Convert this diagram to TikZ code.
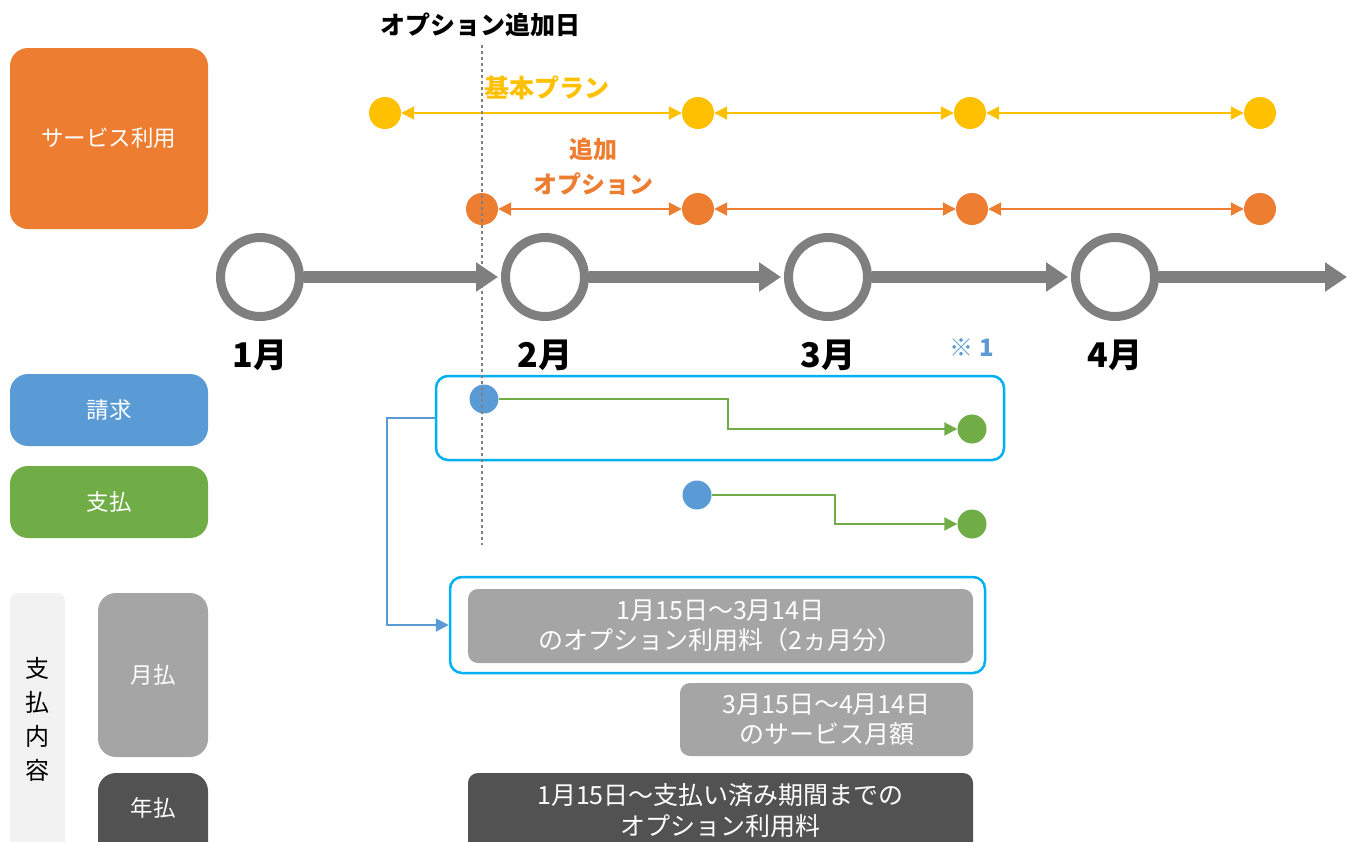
\documentclass[tikz,border=0pt]{standalone}
\usepackage{fontspec}
\setmainfont{Noto Sans CJK JP}
\usetikzlibrary{arrows.meta,calc}

\definecolor{svcorange}{HTML}{ED7D31}
\definecolor{planyellow}{HTML}{FFC000}
\definecolor{billblue}{HTML}{5B9BD5}
\definecolor{paygreen}{HTML}{70AD47}
\definecolor{boxgray}{HTML}{A5A5A5}
\definecolor{boxdark}{HTML}{525252}
\definecolor{panelgray}{HTML}{F2F2F2}
\definecolor{framecyan}{HTML}{00B0F0}
\definecolor{tlgray}{HTML}{7F7F7F}

\tikzset{
  labelbox/.style={rounded corners=18pt, minimum width=198pt, inner sep=0pt,
    text=white, font=\fontsize{22.5}{26}\selectfont},
  month/.style={circle, draw=tlgray, line width=9pt, minimum size=79pt,
    inner sep=0pt, fill=white},
  monthlabel/.style={font=\bfseries\fontsize{34}{38}\selectfont},
  tline/.style={draw=tlgray, line width=12pt, shorten >=3pt,
    -{Triangle[length=22pt,width=28pt]}},
  dot/.style={circle, minimum size=32pt, inner sep=0pt},
  smalldot/.style={circle, minimum size=29pt, inner sep=0pt},
  spanarrow/.style={line width=2pt,
    {Triangle[length=13pt,width=13pt]}-{Triangle[length=13pt,width=13pt]}},
  elbow/.style={draw=paygreen, line width=2pt, -{Triangle[length=13pt,width=13pt]}},
  frame/.style={draw=framecyan, line width=2.5pt, rounded corners=12pt},
  feebox/.style={fill=boxgray, rounded corners=10pt, inner sep=0pt, text=white,
    align=center, font=\fontsize{25}{30}\selectfont},
}

\begin{document}
\begin{tikzpicture}[x=1pt,y=-1pt]
\useasboundingbox (0,0) rectangle (1347,841);
\clip (0,0) rectangle (1347,841);

% left labels
\node[labelbox, fill=svcorange, minimum height=181pt] (use) at (109,138.5) {サービス利用};
\node[labelbox, fill=billblue, minimum height=72pt] (bill) at (109,410) {請求};
\node[labelbox, fill=paygreen, minimum height=72pt] (pay) at (109,502) {支払};
\fill[panelgray, rounded corners=8pt] (10,593) rectangle (65,880);
\node[align=center, font=\fontsize{24}{34}\selectfont] (content) at (37,719) {支\\払\\内\\容};
\node[labelbox, fill=boxgray, minimum width=110pt, minimum height=164pt] (monthly) at (153,675) {月払};
\fill[boxdark, rounded corners=18pt] (98,773) rectangle (208,880);
\node[text=white, font=\fontsize{22.5}{26}\selectfont] (yearly) at (153,808) {年払};

% titles
\node[font=\bfseries\fontsize{25}{30}\selectfont] (optday) at (480,25) {オプション追加日};
\node[font=\bfseries\fontsize{25}{30}\selectfont, text=planyellow] (plan) at (547,88) {基本プラン};
\node[font=\bfseries\fontsize{24}{35}\selectfont, text=svcorange, align=center] (addopt) at (593,167) {追加\\オプション};

% service periods
\foreach \x [count=\i] in {385,698,970,1260}
  \node[dot, fill=planyellow] (y\i) at (\x,113) {};
\foreach \x [count=\i] in {482,698,972,1260}
  \node[dot, fill=svcorange] (o\i) at (\x,209) {};
\foreach \a/\b in {1/2,2/3,3/4} {
  \draw[spanarrow, planyellow] (y\a) -- (y\b);
  \draw[spanarrow, svcorange] (o\a) -- (o\b);
}

% timeline
\foreach \x/\m [count=\i] in {260/1,545/2,828/3,1115/4} {
  \node[month] (m\i) at (\x,277) {};
  \node[monthlabel] (ml\i) at (\x,355) {\m 月};
}
\coordinate (tend) at (1350,277);
\draw[tline] (m1) -- (m2);
\draw[tline] (m2) -- (m3);
\draw[tline] (m3) -- (m4);
\draw[tline] (m4) -- (tend);
\node[font=\bfseries\fontsize{24}{28}\selectfont, text=billblue] (note) at (972,348) {※ 1};

% billing and payment
\node[frame, minimum width=568pt, minimum height=84pt] (c1) at (720,418) {};
\node[smalldot, fill=billblue] (b1) at (484,399) {};
\node[smalldot, fill=paygreen] (g1) at (972,429) {};
\draw[elbow] (b1.east) -| ($(b1.east)!.5!(g1.west)$) |- (g1.west);
\node[smalldot, fill=billblue] (b2) at (697,495) {};
\node[smalldot, fill=paygreen] (g2) at (972,524) {};
\draw[elbow] (b2.east) -| ($(b2.east)!.5!(g2.west)$) |- (g2.west);

% fees
\node[frame, minimum width=535pt, minimum height=96pt] (c2) at (717.5,625) {};
\node[feebox, minimum width=505pt, minimum height=74pt] (fee1) at (720.5,626)
  {1月15日～3月14日\\のオプション利用料（2ヵ月分）};
\node[feebox, minimum width=293pt, minimum height=73pt] (fee2) at (826.5,719.5)
  {3月15日～4月14日\\のサービス月額};
\fill[boxdark, rounded corners=10pt] (468,773) rectangle (973,880);
\node[text=white, align=center, font=\fontsize{25}{31}\selectfont] (fee3) at (720.5,810.5)
  {1月15日～支払い済み期間までの\\オプション利用料};
\draw[billblue, line width=2pt, -{Triangle[length=13pt,width=13pt]}]
  (c1.west) -- ++(-48,0) |- (c2.west);

% option day
\draw[tlgray, line width=1.2pt, dashed] (482,45) -- (482,545);
\end{tikzpicture}
\end{document}
